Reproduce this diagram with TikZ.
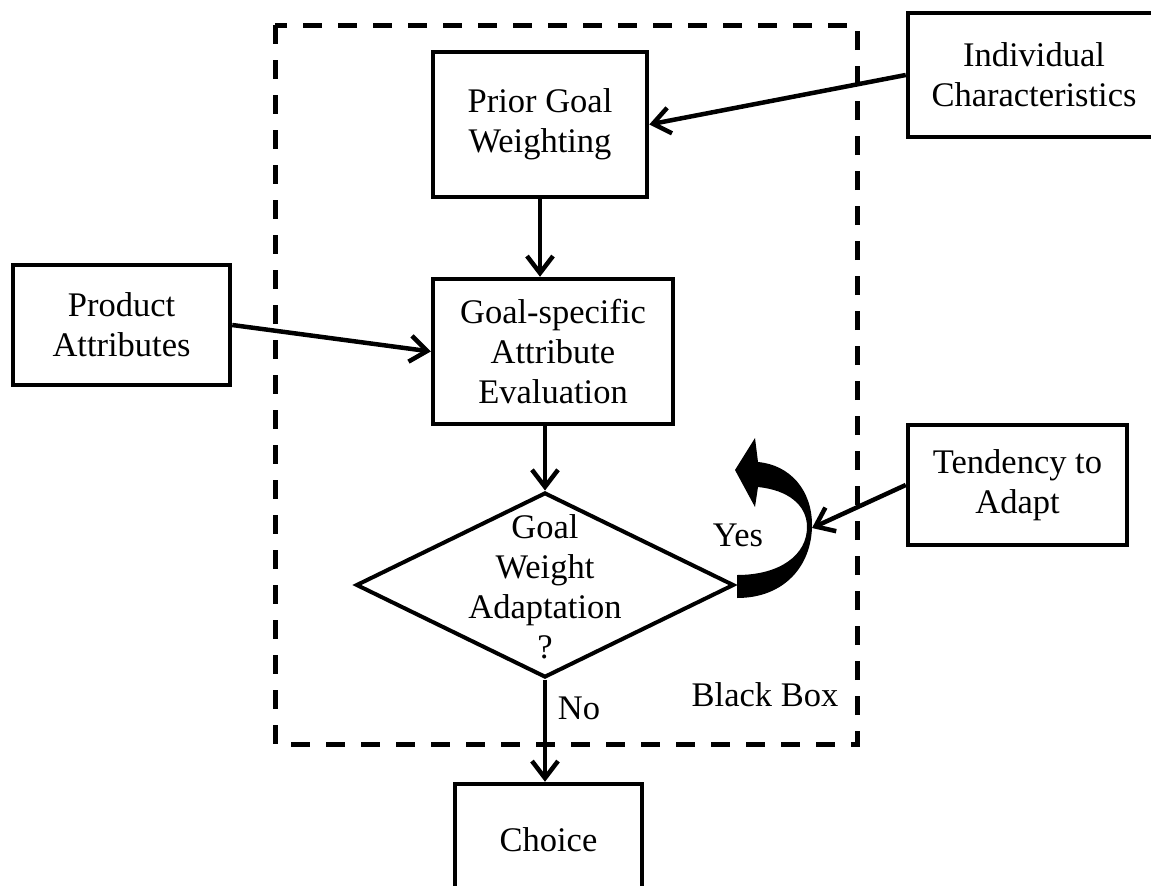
\documentclass[tikz,border=0pt]{standalone}
\usepackage{fontspec}
\setmainfont{Liberation Serif}
\usetikzlibrary{arrows.meta,shapes.geometric}
\newcommand\diagfont{\fontsize{34.5}{40}\selectfont}
\begin{document}
\begin{tikzpicture}[x=1pt,y=-1pt,
  box/.style={draw,line width=4.5pt,align=center,inner sep=0pt,font=\diagfont},
  lbl/.style={inner sep=0pt,align=center,font=\diagfont},
  conn/.style={line width=4.5pt,-{Straight Barb[length=17pt,width=26pt]}},
  frame/.style={line width=5pt,dash pattern=on 19pt off 16pt}]
\useasboundingbox (0,0) rectangle (1151,886);

% black box frame
\draw[frame] (275,25) rectangle (857,744);
\node[lbl] (bbox) at (765,695) {Black Box};

% boxes
\node[box,minimum width=214pt,minimum height=145pt] (prior) at (540,124.5) {Prior Goal\\Weighting};
\node[box,minimum width=252pt,minimum height=124pt] (indiv) at (1034,75) {Individual\\Characteristics};
\node[box,minimum width=217pt,minimum height=120pt] (product) at (121.5,325) {Product\\Attributes};
\node[box,minimum width=240pt,minimum height=145pt] (goal) at (553,351.5) {Goal-specific\\Attribute\\Evaluation};
\node[box,minimum width=219pt,minimum height=120pt] (tend) at (1017.5,485) {Tendency to\\Adapt};
\node[box,minimum width=187pt,minimum height=112pt] (choice) at (548.5,840) {Choice};

% decision
\node[draw,diamond,line width=4pt,minimum width=378pt,minimum height=185pt,inner sep=0pt] (adapt) at (545,585) {};
\node[lbl] (adapttext) at (545,587) {Goal\\Weight\\Adaptation\\?};

% curved "yes" arrow leaving the decision
\fill (737,598) .. controls (785,598) and (812,565) .. (812,525)
  .. controls (812,490) and (790,465) .. (758,462)
  -- (755,438) -- (735,470) -- (755,507) -- (758,487)
  .. controls (788,490) and (807,505) .. (807,527)
  .. controls (807,555) and (780,575) .. (737,575) -- cycle;
\coordinate (bend) at (812,528);
\node[lbl] (yes) at (738,535) {Yes};
\node[lbl] (no) at (579,708) {No};

% connectors
\draw[conn] (indiv.west) -- (prior.east);
\draw[conn] (prior.south) -- (prior.south |- goal.north);
\draw[conn] (product.east) -- (goal.west);
\draw[conn] (adapt.north |- goal.south) -- (adapt.north);
\draw[conn] (adapt.south) -- (adapt.south |- choice.north);
\draw[conn] (tend.west) -- (bend);
\end{tikzpicture}
\end{document}
